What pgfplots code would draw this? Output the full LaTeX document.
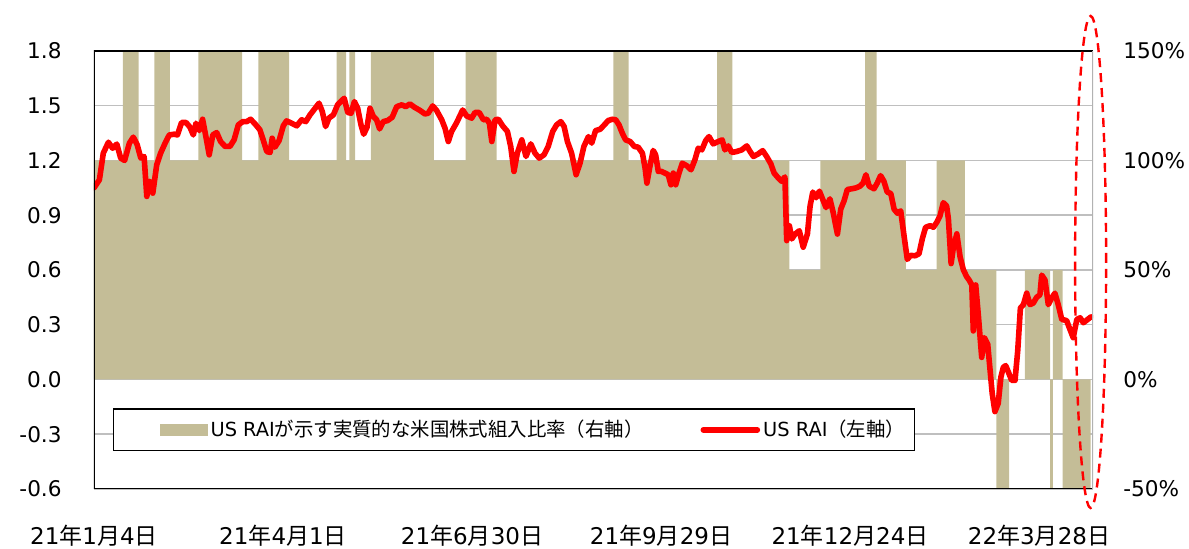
\documentclass[border=0pt]{standalone}
\usepackage{pgfplots}
\usepackage{pgfplotstable}
\pgfplotsset{compat=1.18}
\usepackage{fontspec}
\setmainfont{DejaVu Sans}
\newfontfamily\jp{Noto Sans CJK JP}
\definecolor{khaki}{RGB}{196,189,151}
\definecolor{gridgray}{RGB}{191,191,191}
\newcommand{\jd}[3]{#1{\jp 年}#2{\jp 月}#3{\jp 日}}

\pgfplotstableread{
d pct
0 100
9.6 150
14.9 100
20.1 150
25.3 100
34.8 150
49.4 100
54.8 150
65 100
80.9 150
84 100
85.1 150
87 100
92.3 150
113.3 100
123.9 150
134.2 100
173.1 150
178.2 100
207.7 150
212.8 100
231.8 50
242.1 100
257 150
260.9 100
270.6 50
280.9 100
290.3 50
300.8 -50
305 0
310.3 50
318.7 -50
319.6 50
322.9 -50
332.2 -50
}\ratio

\pgfplotstableread{
d rai
0 1.05
1.8 1.094
3.1 1.24
4.8 1.30
6.2 1.267
7.6 1.29
8.9 1.213
10.2 1.20
11.8 1.295
13.1 1.328
14.4 1.286
15.6 1.213
16.7 1.222
17.6 1.003
18.5 1.085
19.6 1.021
20.9 1.176
22.2 1.24
23.7 1.295
25.1 1.34
26.7 1.344
27.8 1.34
29.2 1.408
30.7 1.408
32.0 1.382
33.1 1.34
34.0 1.404
35.1 1.364
36.2 1.426
37.3 1.331
38.4 1.231
39.6 1.34
40.9 1.353
42.2 1.304
43.7 1.277
45.3 1.277
46.7 1.313
48.1 1.395
49.6 1.413
50.9 1.413
52.2 1.426
53.7 1.40
55.3 1.368
56.4 1.313
57.6 1.249
58.7 1.244
59.4 1.322
60.3 1.273
61.7 1.309
63.1 1.39
64.2 1.417
65.9 1.404
67.6 1.39
69.2 1.423
70.6 1.413
72.0 1.45
73.7 1.486
75.0 1.514
76.1 1.468
77.2 1.386
78.3 1.432
79.8 1.45
81.2 1.505
82.3 1.523
83.4 1.541
84.6 1.463
85.7 1.459
86.8 1.523
87.9 1.486
89.0 1.395
89.9 1.344
91.0 1.382
92.0 1.486
93.1 1.441
94.2 1.423
95.2 1.373
96.4 1.413
97.9 1.419
99.4 1.437
100.9 1.495
102.6 1.505
103.9 1.495
105.3 1.51
106.8 1.492
108.7 1.474
110.3 1.455
111.4 1.459
112.9 1.499
114.2 1.474
115.9 1.423
117.0 1.377
118.1 1.304
119.2 1.359
120.9 1.408
122.9 1.477
124.2 1.444
125.9 1.432
127.0 1.463
128.4 1.463
129.8 1.423
130.9 1.426
131.8 1.404
132.6 1.304
133.7 1.423
134.8 1.426
136.2 1.39
137.8 1.359
138.9 1.277
140.0 1.14
141.1 1.24
142.6 1.313
144.0 1.222
145.6 1.291
147.0 1.24
148.4 1.213
150.0 1.231
151.4 1.277
152.9 1.359
154.2 1.395
155.6 1.413
156.7 1.386
157.8 1.304
159.2 1.24
160.7 1.122
162.0 1.185
163.3 1.277
164.8 1.331
165.9 1.295
167.2 1.364
168.7 1.371
170.1 1.395
171.4 1.419
172.8 1.426
173.9 1.423
175.0 1.395
176.1 1.35
177.2 1.313
178.7 1.304
180.1 1.277
181.4 1.273
182.8 1.24
183.7 1.158
184.3 1.076
185.3 1.167
186.4 1.255
187.2 1.231
188.1 1.14
189.2 1.14
190.3 1.131
191.4 1.122
192.3 1.067
193.1 1.131
193.9 1.067
195.0 1.131
196.1 1.185
197.6 1.171
199.0 1.149
200.3 1.204
201.4 1.267
202.6 1.258
203.9 1.309
205.0 1.331
206.4 1.291
208.1 1.304
209.4 1.313
210.3 1.258
211.4 1.28
212.6 1.244
214.2 1.249
215.9 1.258
217.6 1.28
218.7 1.249
219.8 1.222
221.4 1.236
222.9 1.254
224.2 1.222
225.6 1.182
226.7 1.131
228.1 1.104
229.2 1.086
230.3 1.11
230.9 0.761
231.8 0.842
232.6 0.77
233.7 0.797
235.1 0.815
236.4 0.725
237.8 0.797
238.7 0.951
239.6 1.027
240.7 0.996
241.8 1.032
242.9 0.987
244.0 0.942
245.3 0.99
246.4 0.914
247.8 0.797
248.9 0.933
250.0 0.978
251.1 1.041
252.6 1.045
254.0 1.05
255.3 1.059
256.4 1.077
257.3 1.122
258.4 1.059
260.0 1.045
261.1 1.077
262.2 1.117
263.3 1.086
264.4 1.027
265.6 1.019
266.7 0.933
267.8 0.911
268.9 0.924
270.0 0.788
271.1 0.658
272.2 0.68
273.7 0.678
275.0 0.689
276.1 0.771
277.2 0.834
278.7 0.843
279.8 0.834
280.9 0.861
282.0 0.897
283.1 0.969
284.2 0.951
284.8 0.879
285.7 0.635
286.4 0.717
287.6 0.798
288.7 0.671
289.8 0.6
290.9 0.563
291.7 0.545
292.6 0.518
293.1 0.266
293.9 0.518
294.8 0.347
295.9 0.121
296.8 0.229
297.9 0.193
298.7 0.049
299.4 -0.077
300.3 -0.176
301.4 -0.131
302.3 0.013
303.1 0.067
303.9 0.076
304.8 0.04
305.9 -0.005
307.0 -0.005
307.9 0.157
308.8 0.392
309.8 0.41
310.9 0.473
312.0 0.41
313.1 0.419
314.2 0.45
315.3 0.464
315.9 0.572
317.0 0.545
318.1 0.41
319.2 0.446
320.3 0.473
321.4 0.41
322.6 0.329
324.2 0.323
325.3 0.275
326.4 0.229
327.6 0.329
328.7 0.338
329.8 0.311
331.2 0.329
332.3 0.343
}\rai

\begin{document}
\begin{tikzpicture}
\pgfplotsset{
  base/.style={scale only axis, width=499.5pt, height=219pt, xmin=0, xmax=333,
    major tick length=0pt, axis line style={draw=none}},
}
\begin{axis}[base,
  ymin=-0.6, ymax=1.8,
  ytick={-0.6,-0.3,0,0.3,0.6,0.9,1.2,1.5,1.8},
  yticklabels={-0.6,-0.3,0.0,0.3,0.6,0.9,1.2,1.5,1.8},
  ymajorgrids, grid style={gridgray, line width=0.75pt},
  xtick={0,63,126,189,252,315},
  xticklabels={\jd{21}{1}{4},\jd{21}{4}{1},\jd{21}{6}{30},\jd{21}{9}{29},\jd{21}{12}{24},\jd{22}{3}{28}},
  yticklabel style={font=\fontsize{10.8}{12}\selectfont, inner sep=0pt, xshift=-16pt},
  xticklabel style={font=\fontsize{11.5}{13}\selectfont, inner sep=0pt, yshift=-18pt},
  legend columns=2,
  legend style={at={(axis description cs:0.019,0.135)}, anchor=west,
    draw=black, line width=0.6pt, fill=white,
    font=\fontsize{9.7}{11}\selectfont,
    inner xsep=3pt, inner ysep=4pt,
    nodes={inner sep=1.5pt},
    /tikz/every even column/.append style={column sep=27pt}},
  legend cell align=left,
]
\addplot[const plot, fill=khaki, draw=none,
  legend image code/.code={\path (-20pt,0pt); \fill[khaki] (0pt,-3pt) rectangle (24pt,3pt);}]
  table[x=d, y expr=\thisrow{pct}*0.012] {\ratio} \closedcycle;
\addlegendentry{US RAI{\jp が示す実質的な米国株式組入比率（右軸）}}
\addplot[red, line width=2.8pt, line join=round, line cap=round,
  legend image code/.code={\draw[red, line width=2.8pt] (0pt,0pt) -- (27pt,0pt);}]
  table[x=d, y=rai] {\rai};
\addlegendentry{US RAI{\jp （左軸）}}
\coordinate (ellc) at (axis cs:332.2,0.644);
\end{axis}
\begin{axis}[base,
  ymin=-50, ymax=150,
  axis y line*=right, axis x line=none,
  ytick={-50,0,50,100,150},
  yticklabels={-50\%,0\%,50\%,100\%,150\%},
  yticklabel style={font=\fontsize{10.8}{12}\selectfont, inner sep=0pt, xshift=15pt},
]
\draw[black, line width=1pt] (rel axis cs:0,0) -- (rel axis cs:1,0);
\draw[black, line width=1pt] (rel axis cs:0,0) -- (rel axis cs:0,1) -- (rel axis cs:1,1);
\draw[gray!60, line width=1pt] (rel axis cs:1,0) -- (rel axis cs:1,1);
\end{axis}
\draw[red, line width=1.2pt, dash pattern=on 4.5pt off 3pt] (ellc) ellipse [x radius=7.75pt, y radius=123pt];
\pgfresetboundingbox
\useasboundingbox (-47pt,-30pt) rectangle (547.5pt,244.5pt);
\end{tikzpicture}
\end{document}
